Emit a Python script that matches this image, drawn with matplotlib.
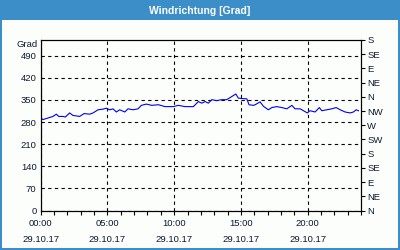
import numpy as np
import matplotlib.pyplot as plt
from matplotlib.patches import Rectangle

plt.rcParams['font.family'] = ['Liberation Sans', 'DejaVu Sans']

# wind direction readings, hours since 29.10.17 00:00
hours = [0.0, 0.17, 0.55, 0.92, 1.17, 1.35, 1.67, 1.84, 2.17, 2.42, 2.92, 3.25,
         3.67, 3.92, 4.30, 4.67, 4.92, 5.17, 5.42, 5.67, 5.92, 6.30, 6.54, 6.92,
         7.29, 7.54, 7.92, 8.32, 8.82, 9.32, 9.94, 10.31, 10.82, 11.44, 11.81,
         12.07, 12.32, 12.56, 12.82, 13.19, 13.57, 13.94, 14.32, 14.62, 14.81,
         15.19, 15.44, 15.61, 15.94, 16.07, 16.44, 16.69, 17.06, 17.32, 17.69,
         18.07, 18.44, 18.82, 19.06, 19.44, 19.69, 19.98, 20.18, 20.56, 20.88,
         21.06, 21.44, 21.81, 22.14, 22.44, 22.81, 23.19, 23.43, 23.64, 23.81]
grad = [293, 288, 293, 298, 305, 298, 298, 296, 309, 301, 298, 307,
        305, 309, 319, 321, 324, 319, 322, 312, 319, 312, 322, 319,
        322, 333, 337, 333, 335, 329, 329, 333, 329, 329, 345,
        340, 345, 340, 351, 348, 351, 351, 361, 369, 356,
        354, 354, 335, 333, 335, 344, 330, 319, 326, 329,
        326, 322, 333, 322, 322, 316, 309, 316, 312, 326,
        316, 319, 322, 326, 319, 312, 309, 312, 319, 316]

left_ticks = [0, 70, 140, 210, 280, 350, 420, 490]
compass = ['N', 'NE', 'E', 'SE', 'S', 'SW', 'W', 'NW', 'N', 'NE', 'E', 'SE', 'S']
time_labels = ['00:00', '05:00', '10:00', '15:00', '20:00']
date_label = '29.10.17'

blue = '#3b8ec8'
txt = '#101830'

fig = plt.figure(figsize=(4, 2.5), dpi=100)
fig.patch.set_facecolor(blue)
fig.patches.append(Rectangle((2 / 400, 2 / 250), 396 / 400, 228 / 250,
                             transform=fig.transFigure, facecolor='#fcfefc',
                             edgecolor='none', zorder=-10))
fig.text(0.5, 1 - 11 / 250, 'Windrichtung [Grad]', color='white',
         fontsize=7.5, fontweight='bold', ha='center', va='center')

ax = fig.add_axes([40.7 / 400, 39.5 / 250, 320.3 / 400, 170.5 / 250])
ax.set_facecolor('none')
ax.plot(hours, grad, color='#0000f0', lw=0.8)
ax.set_xlim(0, 24)
ax.set_ylim(0, 540)

ax.set_xticks([0, 5, 10, 15, 20])
ax.set_xticklabels([t + '\n' + date_label for t in time_labels])
for lab in ax.get_xticklabels():
    lab.set_linespacing(2.0)
ax.set_xticks(range(0, 25), minor=True)
ax.tick_params(axis='x', which='both', direction='out', length=3, width=0.8,
               labelsize=6.8, labelcolor=txt, pad=3)

ax.set_yticks(left_ticks)
ax.set_yticklabels([str(v) for v in left_ticks])
ax.tick_params(axis='y', length=0, labelsize=6.8, labelcolor=txt, pad=3)
ax.text(-0.01, 1 - 5 / 170.5, 'Grad', transform=ax.transAxes, ha='right',
        va='center', fontsize=6.8, color=txt)

ax.grid(True, which='major', color='black', lw=0.8, ls=(0, (3, 3)))
for s in ax.spines.values():
    s.set_linewidth(0.8)

ax2 = ax.twinx()
ax2.set_ylim(0, 540)
ax2.set_yticks(np.arange(0, 541, 45))
ax2.set_yticklabels(compass)
ax2.tick_params(axis='y', direction='out', length=3, width=0.8,
                labelsize=6.8, labelcolor=txt, pad=1.5)

fig.savefig('out.png', dpi=100, facecolor=fig.get_facecolor())
